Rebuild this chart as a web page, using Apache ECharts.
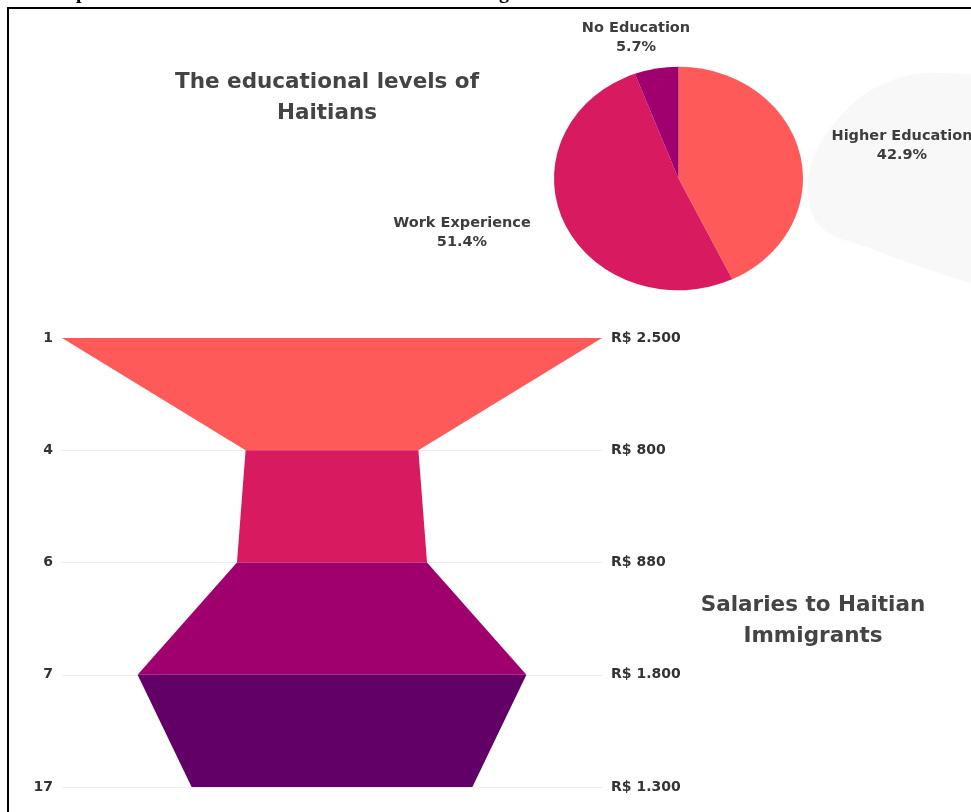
<!DOCTYPE html>
<html>
<head>
<meta charset="utf-8">
<script src="https://cdn.jsdelivr.net/npm/echarts@6/dist/echarts.min.js"></script>
<style>
html,body{margin:0;padding:0;background:#fff;}
#main{width:971px;height:812px;}
</style>
</head>
<body>
<div id="main"></div>
<script>
// ---- data ----
const eduNames = ['Higher Education', 'Work Experience', 'No Education'];
const eduValues = [42.9, 51.4, 5.7];
const rankLabels = ['1', '4', '6', '7', '17'];
const salaryValues = [2500, 800, 880, 1800, 1300];
const salaryLabels = ['R$ 2.500', 'R$ 800', 'R$ 880', 'R$ 1.800', 'R$ 1.300'];

// ---- styles ----
const eduColors = ['#FF5A5A', '#D81A60', '#A0006E'];
const bandColors = ['#FF5A5A', '#D81A60', '#A0006E', '#620068'];
const eduLabelPos = [[902, 146], [462, 233], [636, 38]];
const labelFont = 'bold 14.5px "DejaVu Sans"';
const titleStyle = { fontFamily: 'DejaVu Sans', fontWeight: 'bold', fontSize: 21.5, color: '#444444', lineHeight: 31 };
const axisLabelStyle = { margin: 9, color: '#333', fontFamily: 'DejaVu Sans', fontWeight: 'bold', fontSize: 14 };

const chart = echarts.init(document.getElementById('main'));
const eduTotal = eduValues.reduce((a, b) => a + b, 0);
const maxSalary = Math.max.apply(null, salaryValues);

const option = {
  animation: false,
  backgroundColor: '#ffffff',
  title: [
    { text: 'The educational levels of\nHaitians', left: 322, top: 62, textAlign: 'center', textStyle: titleStyle },
    { text: 'Salaries to Haitian\nImmigrants', left: 808, top: 585, textAlign: 'center', textStyle: titleStyle }
  ],
  graphic: [
    {
      type: 'polygon', z: -10, silent: true,
      shape: {
        points: [[1010, 76], [971, 74], [905, 76], [850, 106], [810, 168], [818, 224], [875, 250], [971, 283], [1010, 290]],
        smooth: 0.35
      },
      style: { fill: '#f8f8f8' }
    },
    { type: 'rect', shape: { x: 7, y: 7, width: 964, height: 2 }, style: { fill: '#000' } },
    { type: 'rect', shape: { x: 7, y: 7, width: 2, height: 805 }, style: { fill: '#000' } },
    { type: 'text', x: 76, y: -17, style: { text: 'p', font: 'bold 20px "Liberation Serif"', fill: '#000' } },
    { type: 'text', x: 499, y: -17, style: { text: 'g', font: 'bold 20px "Liberation Serif"', fill: '#000' } }
  ],
  grid: { left: 62, right: 369, top: 338, bottom: 25 },
  xAxis: { type: 'value', min: -maxSalary / 2, max: maxSalary / 2, show: false },
  yAxis: [
    {
      type: 'category', data: rankLabels, inverse: true, boundaryGap: false,
      axisLine: { show: false }, axisTick: { show: false },
      axisLabel: axisLabelStyle,
      splitLine: { show: true, lineStyle: { color: '#eeeeee', width: 1 } }
    },
    {
      type: 'category', data: salaryLabels, inverse: true, boundaryGap: false, position: 'right',
      axisLine: { show: false }, axisTick: { show: false },
      axisLabel: axisLabelStyle,
      splitLine: { show: false }
    }
  ],
  series: [
    {
      type: 'custom',
      coordinateSystem: 'cartesian2d',
      data: bandColors.map((c, i) => [0, i]),
      renderItem: function (params, api) {
        const i = params.dataIndex;
        const a = salaryValues[i] / 2, b = salaryValues[i + 1] / 2;
        const p1 = api.coord([-a, i]), p2 = api.coord([a, i]);
        const p3 = api.coord([b, i + 1]), p4 = api.coord([-b, i + 1]);
        return {
          type: 'polygon',
          shape: { points: [p1, p2, p3, p4] },
          style: { fill: bandColors[i] }
        };
      }
    },
    {
      type: 'custom',
      coordinateSystem: 'none',
      data: eduValues.map((v, i) => ({ value: v, name: eduNames[i] })),
      renderItem: function (params, api) {
        const i = params.dataIndex;
        let before = 0;
        for (let k = 0; k < i; k++) before += eduValues[k];
        const s = -Math.PI / 2 + before / eduTotal * Math.PI * 2;
        const e = s + eduValues[i] / eduTotal * Math.PI * 2;
        return {
          type: 'group',
          children: [
            {
              type: 'sector',
              x: 678.5, y: 178.5, scaleX: 1, scaleY: 0.898,
              shape: { cx: 0, cy: 0, r0: 0, r: 124.5, startAngle: s, endAngle: e, clockwise: true },
              style: { fill: eduColors[i] }
            },
            {
              type: 'text',
              x: eduLabelPos[i][0], y: eduLabelPos[i][1],
              style: {
                text: eduNames[i] + '\n' + eduValues[i].toFixed(1) + '%',
                align: 'center', verticalAlign: 'middle',
                font: labelFont, fill: '#3d3d3d', lineHeight: 19
              }
            }
          ]
        };
      }
    }
  ]
};
chart.setOption(option);
</script>
</body>
</html>
